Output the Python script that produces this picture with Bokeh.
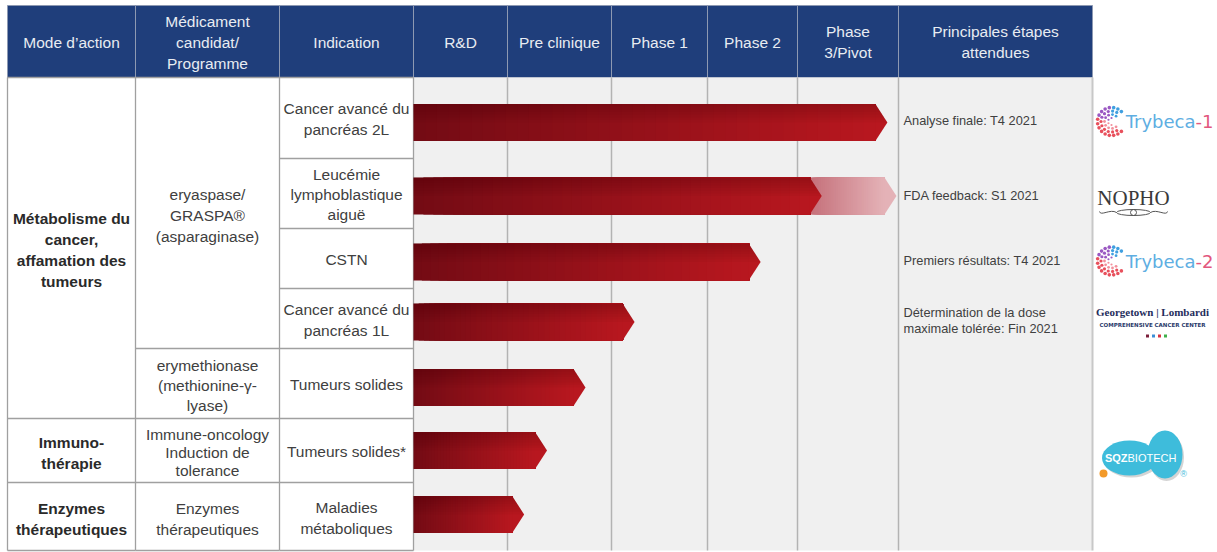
import math
from bokeh.plotting import figure
from bokeh.models import Range1d
from bokeh.embed import file_html
from bokeh.resources import INLINE
from bokeh.core.properties import value

# ---------------- data ----------------
header_labels = ["Mode d’action", "Médicament\ncandidat/\nProgramme", "Indication",
                 "R&D", "Pre clinique", "Phase 1", "Phase 2", "Phase\n3/Pivot",
                 "Principales étapes\nattendues"]
modes = ["Métabolisme du\ncancer,\naffamation des\ntumeurs", "Immuno-\nthérapie",
         "Enzymes\nthérapeutiques"]
mode_rows = [5, 1, 1]
drugs = ["eryaspase/\nGRASPA®\n(asparaginase)", "erymethionase\n(methionine-γ-\nlyase)",
         "Immune-oncology\nInduction de\ntolerance", "Enzymes\nthérapeutiques"]
drug_rows = [4, 1, 1, 1]
indications = ["Cancer avancé du\npancréas 2L", "Leucémie\nlymphoblastique\naiguë", "CSTN",
               "Cancer avancé du\npancréas 1L", "Tumeurs solides", "Tumeurs solides*",
               "Maladies\nmétaboliques"]
# progress measured in phases (0 = start of R&D, 5 = end of Phase 3/Pivot)
progress = [4.89, 4.24, 3.59, 2.24, 1.75, 1.38, 1.16]
planned = [None, 4.98, None, None, None, None, None]
milestones = ["Analyse finale: T4 2021", "FDA feedback:  S1 2021", "Premiers résultats: T4 2021",
              "Détermination de la dose\nmaximale tolérée: Fin 2021", "", "", ""]
partners = ["Trybeca-1", "NOPHO", "Trybeca-2", "Georgetown | Lombardi", "", "SQZBIOTECH", ""]

# ---------------- layout / style ----------------
col_x = [7, 135, 279, 413, 507, 611, 707, 797, 898, 1092]
head_top, head_bot = 5, 77
row_y = [77, 158, 228, 288, 348, 418, 482, 550]
arrow_y = [122, 195.5, 261.5, 321.5, 387, 450, 514]
arrow_h = 37
NAVY = "#1f3e7b"
FONT = "Liberation Sans"
FS = 15.5

p = figure(width=1217, height=552, x_range=Range1d(0, 1217), y_range=Range1d(552, 0),
           output_backend="svg", toolbar_location=None, min_border=0)
p.axis.visible = False
p.grid.visible = False
p.outline_line_color = None
p.background_fill_color = "white"
p.border_fill_color = "white"


def lerp(c0, c1, t):
    a = [int(c0[i:i + 2], 16) for i in (1, 3, 5)]
    b = [int(c1[i:i + 2], 16) for i in (1, 3, 5)]
    return "#%02x%02x%02x" % tuple(int(round(a[k] + (b[k] - a[k]) * t)) for k in range(3))


def put_text(label, x, yc, size=FS, color="#404040", style="normal", spacing=21,
             align="center", font=FONT):
    lines = label.split("\n")
    n = len(lines)
    for k, ln in enumerate(lines):
        p.text(x=[x], y=[yc + (k - (n - 1) / 2) * spacing], text=[ln],
               text_font=value(font), text_font_size=f"{size}px", text_color=color,
               text_font_style=style, text_align=align, text_baseline="middle")


def phase_x(v):
    i = min(int(v), 4)
    return col_x[3 + i] + (v - i) * (col_x[4 + i] - col_x[3 + i])


# ---------------- header ----------------
p.quad(left=col_x[:-1], right=col_x[1:], top=head_top, bottom=head_bot,
       fill_color=NAVY, line_color="#8d99b2", line_width=1)
for i, lab in enumerate(header_labels):
    put_text(lab, (col_x[i] + col_x[i + 1]) / 2, (head_top + head_bot) / 2 + 0.5,
             color="#e8ecf2", spacing=21)

# ---------------- body backgrounds and grid ----------------
p.quad(left=col_x[3], right=col_x[-1], top=row_y[0], bottom=row_y[-1],
       fill_color="#f0f0f0", line_color=None)
p.segment(x0=col_x[4:-1], x1=col_x[4:-1], y0=row_y[0], y1=row_y[-1],
          line_color="#b3b3b3", line_width=1.5)
p.segment(x0=[col_x[-1]], x1=[col_x[-1]], y0=row_y[0], y1=row_y[-1],
          line_color="#c8c8c8", line_width=2)

LC = "#a0a0a0"
p.segment(x0=col_x[:4], x1=col_x[:4], y0=row_y[0], y1=row_y[-1], line_color=LC, line_width=1.3)
p.segment(x0=[col_x[2]] * len(row_y), x1=[col_x[3]] * len(row_y), y0=row_y, y1=row_y,
          line_color=LC, line_width=1.3)


def span_bounds(spans):
    b, k = [row_y[0]], 0
    for s in spans:
        k += s
        b.append(row_y[k])
    return b


mode_b = span_bounds(mode_rows)
drug_b = span_bounds(drug_rows)
p.segment(x0=[col_x[0]] * len(mode_b), x1=[col_x[1]] * len(mode_b), y0=mode_b, y1=mode_b,
          line_color=LC, line_width=1.3)
p.segment(x0=[col_x[1]] * len(drug_b), x1=[col_x[2]] * len(drug_b), y0=drug_b, y1=drug_b,
          line_color=LC, line_width=1.3)


def spacing_for(label, h):
    n = len(label.split("\n"))
    return min(21, (h - 10) / n)


for i, m in enumerate(modes):
    h = mode_b[i + 1] - mode_b[i]
    put_text(m, (col_x[0] + col_x[1]) / 2, (mode_b[i] + mode_b[i + 1]) / 2 + 2,
             color="#2a2a2a", style="bold", spacing=spacing_for(m, h))
for i, d in enumerate(drugs):
    h = drug_b[i + 1] - drug_b[i]
    put_text(d, (col_x[1] + col_x[2]) / 2, (drug_b[i] + drug_b[i + 1]) / 2 + 2,
             spacing=spacing_for(d, h))
for i, ind in enumerate(indications):
    h = row_y[i + 1] - row_y[i]
    put_text(ind, (col_x[2] + col_x[3]) / 2, (row_y[i] + row_y[i + 1]) / 2 + 1,
             spacing=spacing_for(ind, h))

# ---------------- arrows ----------------
TIP = 12


def arrow(x0, xt, yc, h, c0, c1, n=40, shade=True):
    xs = xt - TIP
    top, bot = yc - h / 2, yc + h / 2
    # horizontal gradient: nested slices, each reaching the shoulder
    lefts = [x0 + (xs - x0) * k / n for k in range(n)]
    cols = [lerp(c0, c1, (k + 0.5) / n) for k in range(n)]
    p.quad(left=lefts, right=[xs + 0.5] * n, top=top, bottom=bot,
           fill_color=cols, line_color=None)
    p.patch([xs, xt, xs], [top, yc, bot], fill_color=c1, line_color=None)
    if shade:
        # darker upper part (diagonal look), following the chevron outline
        m = 7
        xsl, ysl = [], []
        for k in range(m):
            yc_cut = top + (h / 2) * (1 - k / m)
            xe = xs + TIP * (yc_cut - top) / (h / 2)
            xsl.append([x0, xs, xe, x0])
            ysl.append([top, top, yc_cut, yc_cut])
        p.patches(xsl, ysl, fill_color="#3a0004", fill_alpha=0.035, line_color=None)


for i, v in enumerate(progress):
    if planned[i] is not None:
        arrow(phase_x(v) - TIP, phase_x(planned[i]), arrow_y[i], arrow_h,
              "#c5707a", "#e4b2b7", shade=False)
    arrow(col_x[3], phase_x(v), arrow_y[i], arrow_h, "#730b14", "#b8171f")

# ---------------- milestones ----------------
for i, ms in enumerate(milestones):
    if ms:
        put_text(ms, col_x[8] + 5, (row_y[i] + row_y[i + 1]) / 2 + 2, size=12.8,
                 spacing=16, align="left")


# ---------------- partner logos ----------------
def trybeca(label, yc):
    cx = 1111
    rings = [(3.5, 6, 2.2), (7, 11, 2.8), (10.5, 15, 3.2), (14, 20, 3.6)]
    xs, ys, cs, ss = [], [], [], []
    for r, n, s in rings:
        for k in range(n):
            a = 2 * math.pi * (k + 0.5) / n
            dx, dy = math.cos(a), -math.sin(a)
            if dx > 0.8:
                continue
            xs.append(cx + r * dx)
            ys.append(yc + r * dy)
            ss.append(s)
            if dy < -0.35:
                cs.append("#3f9fe0" if dx > 0.1 else "#9a58c2")
            else:
                cs.append("#f3909c" if r < 8 else "#e8505c")
    p.scatter(xs, ys, size=ss, color=cs, line_color=None)
    base, suf = label.split("-")
    p.text(x=[1195], y=[yc], text=[base], text_font=value("DejaVu Sans"), text_font_size="18px",
           text_color="#5eaee2", text_align="right", text_baseline="middle")
    p.text(x=[1195], y=[yc], text=["-" + suf], text_font=value("DejaVu Sans"),
           text_font_size="18px", text_color="#e2577e", text_align="left", text_baseline="middle")


def nopho(label, yc):
    p.text(x=[1133], y=[yc], text=[label], text_font=value("Liberation Serif"),
           text_font_size="21px", text_color="#3a3a3a", text_align="center", text_baseline="middle")
    p.ellipse(x=[1133], y=[yc + 15], width=34, height=6, fill_color=None,
              line_color="#555555", line_width=1)
    p.scatter([1133], [yc + 15], size=6, fill_color=None, line_color="#555555")
    p.bezier(x0=[1099, 1167], y0=[yc + 14, yc + 14], x1=[1116, 1150], y1=[yc + 15, yc + 15],
             cx0=[1100, 1166], cy0=[yc + 19, yc + 19], cx1=[1110, 1156], cy1=[yc + 11, yc + 11],
             line_color="#555555", line_width=1)


def georgetown(label, yc):
    p.text(x=[1152], y=[yc - 10], text=[label], text_font=value("Liberation Serif"),
           text_font_size="11px", text_font_style="bold", text_color="#1f2d5c",
           text_align="center", text_baseline="middle")
    p.text(x=[1152], y=[yc + 3], text=["COMPREHENSIVE CANCER CENTER"],
           text_font=value("DejaVu Sans"), text_font_size="5.5px", text_font_style="bold",
           text_color="#2a3a6a", text_align="center", text_baseline="middle")
    p.scatter([1147, 1153, 1159, 1165], [yc + 14] * 4, marker="square", size=3,
              color=["#7b1f3a", "#3b8fd6", "#d8323f", "#3fb04a"], line_color=None)


def sqz(label, yc):
    yc = yc + 5
    p.ellipse(x=[1131, 1166], y=[yc + 4.5, yc + 1.5], width=[55, 35], height=[35, 48],
              fill_color="#d4d4d4", line_color=None)
    p.ellipse(x=[1129, 1164.5], y=[yc + 2.5, yc - 1], width=[55, 35], height=[35, 48],
              fill_color="#3ebcdb", line_color=None)
    p.text(x=[1127], y=[yc + 2], text=[label[:3]], text_font=value(FONT), text_font_size="11px",
           text_font_style="bold", text_color="white", text_align="right", text_baseline="middle")
    p.text(x=[1127], y=[yc + 2], text=[label[3:]], text_font=value(FONT), text_font_size="11px",
           text_color="white", text_align="left", text_baseline="middle")
    p.scatter([1103], [yc + 18], size=8, color="#f39a2a", line_color=None)
    p.text(x=[1183], y=[yc + 18], text=["®"], text_font=value(FONT), text_font_size="9px",
           text_color="#3ebcdb", text_align="center", text_baseline="middle")


for i, name in enumerate(partners):
    if not name:
        continue
    yc = arrow_y[i]
    if name.startswith("Trybeca"):
        trybeca(name, yc - 1)
    elif name == "NOPHO":
        nopho(name, yc + 1.5)
    elif name.startswith("Georgetown"):
        georgetown(name, yc)
    else:
        sqz(name, yc)

open("out.html", "w").write(file_html(p, INLINE))
